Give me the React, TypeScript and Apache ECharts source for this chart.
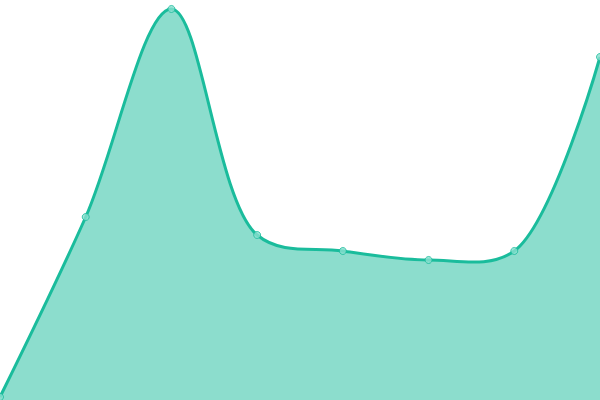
import React, { useEffect, useRef } from 'react'
import * as echarts from 'echarts'

const categories = ['1', '2', '3', '4', '5', '6', '7', '8']
const values = [3, 183, 391, 165, 149, 140, 149, 343]

// centripetal Catmull-Rom (alpha 0.5), same as the curve in the reference
const buildCurve = (ctx: any, pts: number[][]) => {
  const n = pts.length
  if (!n) return
  ctx.moveTo(pts[0][0], pts[0][1])
  for (let i = 0; i < n - 1; i++) {
    const p0 = pts[i - 1] || pts[i]
    const p1 = pts[i]
    const p2 = pts[i + 1]
    const p3 = pts[i + 2] || pts[i + 1]
    const d01 = Math.hypot(p1[0] - p0[0], p1[1] - p0[1])
    const d12 = Math.hypot(p2[0] - p1[0], p2[1] - p1[1])
    const d23 = Math.hypot(p3[0] - p2[0], p3[1] - p2[1])
    const l01 = Math.sqrt(d01)
    const l12 = Math.sqrt(d12)
    const l23 = Math.sqrt(d23)
    let c1x = p1[0]
    let c1y = p1[1]
    let c2x = p2[0]
    let c2y = p2[1]
    if (l01 > 1e-6) {
      const a = 2 * d01 + 3 * l01 * l12 + d12
      const m = 3 * l01 * (l01 + l12)
      c1x = (p1[0] * a - p0[0] * d12 + p2[0] * d01) / m
      c1y = (p1[1] * a - p0[1] * d12 + p2[1] * d01) / m
    }
    if (l23 > 1e-6) {
      const b = 2 * d23 + 3 * l23 * l12 + d12
      const m = 3 * l23 * (l23 + l12)
      c2x = (p2[0] * b + p1[0] * d23 - p3[0] * d12) / m
      c2y = (p2[1] * b + p1[1] * d23 - p3[1] * d12) / m
    }
    ctx.bezierCurveTo(c1x, c1y, c2x, c2y, p2[0], p2[1])
  }
}

echarts.graphic.registerShape(
  'crCurve',
  echarts.graphic.extendShape({
    shape: { points: [], closed: false, bottom: 0 },
    buildPath(ctx: any, shape: any) {
      const pts = shape.points
      if (!pts || !pts.length) return
      buildCurve(ctx, pts)
      if (shape.closed) {
        ctx.lineTo(pts[pts.length - 1][0], shape.bottom)
        ctx.lineTo(pts[0][0], shape.bottom)
        ctx.closePath()
      }
    }
  } as any)
)

const App: React.FC = () => {
  const chartRef = useRef<HTMLDivElement>(null)

  useEffect(() => {
    document.body.style.margin = '0'
    if (!chartRef.current) return
    const chart = echarts.init(chartRef.current, undefined, { renderer: 'svg' })

    const option: echarts.EChartsOption = {
      animation: false,
      grid: { left: 0, right: 0, top: 0, bottom: 0 },
      xAxis: {
        type: 'category',
        data: categories,
        boundaryGap: false,
        show: false
      },
      yAxis: {
        type: 'value',
        min: 0,
        max: 400,
        show: false
      },
      series: [
        {
          type: 'custom',
          data: values.map((v, i) => [i, v]),
          renderItem: (params: any, api: any) => {
            if (params.dataIndex !== 0) return null
            const points = values.map((v, i) => api.coord([i, v]))
            const bottom = api.coord([0, 0])[1]
            return {
              type: 'group',
              children: [
                {
                  type: 'crCurve',
                  shape: { points, closed: true, bottom },
                  style: { fill: 'rgba(26,188,156,0.5)', stroke: null }
                },
                {
                  type: 'crCurve',
                  shape: { points, closed: false, bottom },
                  style: { fill: null, stroke: '#1abc9c', lineWidth: 3 }
                }
              ]
            }
          }
        } as any,
        {
          type: 'scatter',
          data: values,
          symbol: 'circle',
          symbolSize: 7,
          itemStyle: { color: '#8ae0d0', borderColor: '#1abc9c', borderWidth: 1 }
        }
      ]
    }

    chart.setOption(option)
    return () => {
      chart.dispose()
    }
  }, [])

  return <div ref={chartRef} style={{ width: 600, height: 400 }} />
}

export default App
